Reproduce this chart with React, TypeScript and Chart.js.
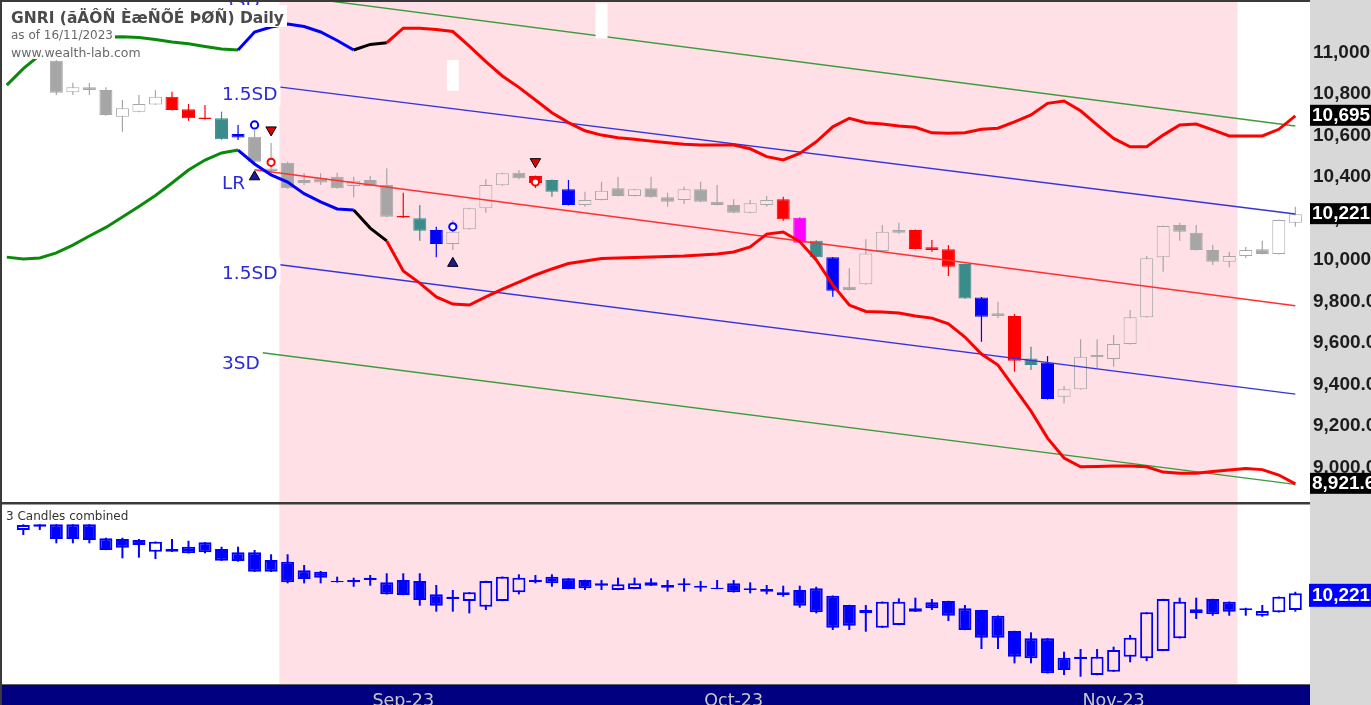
import React, { useEffect, useRef } from 'react';
import { Chart, registerables } from 'chart.js';

Chart.register(...registerables);

// ---------------- data ----------------
const monthTickIndex = [23, 43, 66];
const monthLabels = ['Sep-23', 'Oct-23', 'Nov-23'];
const yTickValues = [9000, 9200, 9400, 9600, 9800, 10000, 10200, 10400, 10600, 10800, 11000];

const opens = [10990, 11005, 10960, 10808, 10832, 10819, 10691, 10715, 10750, 10787, 10726, 10687, 10683, 10607, 10594, 10441, 10469, 10386, 10394, 10401, 10357, 10386, 10361, 10212, 10201, 10145, 10077, 10148, 10249, 10360, 10421, 10405, 10386, 10341, 10265, 10289, 10346, 10308, 10346, 10302, 10289, 10341, 10281, 10265, 10228, 10265, 10293, 10204, 10093, 10013, 9871, 9883, 10043, 10145, 10145, 10061, 10052, 9981, 9820, 9743, 9730, 9526, 9505, 9341, 9377, 9542, 9523, 9595, 9724, 10013, 10169, 10132, 10048, 9992, 10019, 10052, 10029, 10180];
const highs = [11010, 11020, 10964, 10854, 10853, 10832, 10771, 10795, 10819, 10811, 10752, 10747, 10715, 10651, 10627, 10564, 10474, 10419, 10418, 10421, 10401, 10405, 10442, 10324, 10265, 10160, 10193, 10252, 10389, 10420, 10434, 10407, 10388, 10386, 10329, 10377, 10401, 10343, 10401, 10324, 10353, 10377, 10361, 10293, 10289, 10308, 10305, 10206, 10095, 10015, 9960, 10100, 10169, 10180, 10147, 10096, 10072, 9983, 9822, 9799, 9740, 9582, 9537, 9393, 9618, 9618, 9639, 9759, 10019, 10166, 10180, 10169, 10072, 10040, 10063, 10093, 10195, 10257];
const lows = [10985, 10985, 10795, 10795, 10795, 10695, 10618, 10712, 10748, 10721, 10671, 10677, 10580, 10578, 10472, 10410, 10344, 10361, 10361, 10344, 10302, 10355, 10207, 10203, 10093, 10013, 10048, 10146, 10228, 10358, 10389, 10347, 10305, 10263, 10257, 10287, 10306, 10306, 10300, 10257, 10270, 10279, 10263, 10226, 10226, 10257, 10189, 10081, 10011, 9823, 9853, 9881, 10041, 10125, 10051, 10040, 9923, 9813, 9606, 9719, 9462, 9470, 9328, 9309, 9375, 9478, 9486, 9593, 9722, 9944, 10093, 10046, 9976, 9965, 10010, 10027, 10027, 10160];
const closes = [10995, 10990, 10806, 10832, 10819, 10699, 10731, 10752, 10787, 10723, 10683, 10680, 10582, 10591, 10474, 10429, 10346, 10371, 10373, 10346, 10382, 10357, 10209, 10205, 10141, 10077, 10136, 10249, 10361, 10418, 10394, 10371, 10329, 10265, 10289, 10334, 10308, 10341, 10302, 10281, 10341, 10281, 10265, 10228, 10273, 10289, 10196, 10083, 10013, 9852, 9855, 10032, 10136, 10132, 10053, 10048, 9968, 9815, 9727, 9730, 9515, 9494, 9330, 9377, 9534, 9531, 9595, 9724, 10008, 10164, 10136, 10048, 9992, 10019, 10048, 10029, 10193, 10221];
// g grey, h hollow, r red, t teal, b blue, m magenta
const candleTypes = 'hgghgghhhr' + 'rrtbgggggg' + 'hggrtbhhhh' + 'grtbhhghgg' + 'hggghhrmtb' + 'ghhgrrrtbg' + 'rtbhhghhhh' + 'ggghhghh';

// envelope bands, first value sits at bar index -1
const bandStartIndex = -1;
const bandUpper = [10843, 10922, 10988, 11026, 11051, 11067, 11075, 11076, 11072, 11063, 11051, 11042, 11029, 11017, 11012, 11099, 11123, 11137, 11125, 11099, 11058, 11012, 11039, 11047, 11117, 11117, 11111, 11101, 11031, 10956, 10887, 10832, 10771, 10710, 10662, 10623, 10602, 10589, 10582, 10573, 10565, 10558, 10554, 10554, 10554, 10536, 10498, 10482, 10514, 10570, 10642, 10683, 10662, 10655, 10646, 10640, 10613, 10611, 10613, 10630, 10635, 10666, 10699, 10755, 10766, 10719, 10651, 10586, 10546, 10546, 10602, 10651, 10655, 10627, 10598, 10598, 10598, 10630, 10695];
const bandLower = [10014, 10005, 10010, 10034, 10072, 10116, 10157, 10207, 10258, 10311, 10371, 10434, 10482, 10516, 10530, 10463, 10410, 10376, 10320, 10280, 10246, 10241, 10154, 10092, 9947, 9889, 9822, 9788, 9783, 9822, 9860, 9894, 9928, 9957, 9983, 9995, 10007, 10010, 10012, 10014, 10017, 10019, 10024, 10029, 10039, 10063, 10125, 10135, 10089, 10000, 9880, 9783, 9752, 9749, 9745, 9730, 9720, 9692, 9629, 9547, 9494, 9383, 9272, 9142, 9046, 9004, 9005, 9007, 9007, 9004, 8978, 8972, 8972, 8981, 8988, 8995, 8990, 8964, 8921.6];
const bandColors = 'GGGGGGGGGGGGGGG' + 'BBBBBBB' + 'KK' + 'RRRRRRRRRR' + 'RRRRRRRRRR' + 'RRRRRRRRRR' + 'RRRRRRRRRR' + 'RRRRRRRRRR' + 'RRRRR';

// regression channel (start / end values)
const channelFrom = 14;
const channelTo = 77;
const lrLine = [10435, 9780];
const upper15 = [10849, 10222];
const lower15 = [9993, 9354];
const upper3 = [11295, 10646];
const lower3 = [9558, 8919];

// signal markers
const blueCircleIdx = [14, 26];
const blueCircleVal = [10651, 10160];
const redCircleIdx = [15, 31];
const redCircleVal = [10471, 10376];
const sellIdx = [15, 31];
const sellVal = [10627, 10474];
const buyIdx = [14, 26];
const buyVal = [10401, 9984];
const whiteBarIdx = [26, 35];
const whiteBarLow = [10816, 11068];
const whiteBarHigh = [10964, 11237];

const shadeFrom = 15.5;
const shadeTo = 73.5;

// "3 Candles combined" pane
const combOpen = [10914, 10950, 10976, 10976, 10976, 10823, 10815, 10804, 10676, 10706, 10731, 10779, 10706, 10670, 10670, 10585, 10567, 10473, 10457, 10356, 10367, 10392, 10341, 10367, 10356, 10210, 10184, 10137, 10074, 10137, 10232, 10367, 10403, 10385, 10367, 10330, 10257, 10268, 10341, 10312, 10330, 10304, 10282, 10330, 10276, 10268, 10232, 10257, 10276, 10195, 10093, 10038, 9845, 9874, 10020, 10123, 10137, 10057, 10038, 9976, 9809, 9729, 9729, 9516, 9527, 9327, 9363, 9527, 9510, 9590, 9729, 10002, 10159, 10129, 10057, 9976, 10013, 10038];
const combHigh = [10976, 10976, 10976, 10976, 10976, 10829, 10829, 10815, 10788, 10815, 10796, 10781, 10731, 10731, 10695, 10648, 10648, 10531, 10465, 10403, 10392, 10421, 10440, 10440, 10440, 10312, 10257, 10234, 10358, 10405, 10429, 10421, 10429, 10387, 10369, 10367, 10392, 10392, 10385, 10367, 10385, 10356, 10367, 10367, 10341, 10312, 10304, 10304, 10293, 10197, 10095, 10093, 10131, 10166, 10173, 10159, 10139, 10093, 10040, 9978, 9811, 9794, 9731, 9582, 9612, 9612, 9637, 9765, 10015, 10161, 10173, 10173, 10161, 10131, 10063, 10093, 10186, 10238];
const combLow = [10859, 10914, 10768, 10768, 10768, 10693, 10604, 10611, 10596, 10674, 10657, 10659, 10576, 10567, 10455, 10455, 10330, 10330, 10330, 10339, 10293, 10304, 10208, 10200, 10085, 10020, 10020, 10002, 10038, 10135, 10210, 10330, 10293, 10266, 10257, 10257, 10255, 10266, 10302, 10239, 10239, 10239, 10266, 10230, 10221, 10210, 10184, 10063, 10002, 9820, 9820, 9801, 9843, 9872, 10018, 10038, 9918, 9818, 9612, 9612, 9455, 9455, 9344, 9327, 9309, 9325, 9361, 9466, 9480, 9588, 9727, 9940, 9976, 9976, 9976, 9965, 10011, 10020];
const combClose = [10968, 10976, 10815, 10815, 10804, 10695, 10720, 10749, 10786, 10676, 10659, 10670, 10578, 10574, 10457, 10457, 10341, 10377, 10392, 10341, 10341, 10367, 10210, 10202, 10148, 10085, 10159, 10232, 10356, 10403, 10392, 10341, 10330, 10268, 10276, 10304, 10320, 10330, 10304, 10282, 10312, 10282, 10268, 10232, 10257, 10239, 10202, 10085, 10013, 9845, 9867, 10002, 10129, 10129, 10057, 10057, 9976, 9820, 9735, 9735, 9527, 9510, 9346, 9382, 9502, 9527, 9601, 9735, 10013, 10159, 10129, 10046, 9991, 10020, 10038, 10027, 10184, 10221];

// ---------------- layout / style ----------------
const W = 1371;
const MAIN_H = 502;
const LOWER_H = 203;
const AXIS_W = 61;
const X_MIN = -1.289;
const X_MAX = 77.888;
const MAIN_MIN = 8834;
const MAIN_MAX = 11253;
const LOW_MIN = 9218;
const LOW_MAX = 11198;

const PINK = '#ffe0e6';
const AXIS_GREY = '#d8d8d8';
const NAVY = '#000080';
const BORDER = '#3a3a3a';
const candleColor: Record<string, string> = {
  g: '#a6a6a6', h: '#a6a6a6', r: '#ff0000', t: '#3b8b8b', b: '#0000ff', m: '#ff00ff',
};
const bandColor: Record<string, string> = { G: '#0a8a0a', B: '#0000ff', K: '#000000', R: '#ff0000' };
const SANS = '"DejaVu Sans", sans-serif';
const ARIAL = '"Liberation Sans", Arial, sans-serif';

const bgAt = (i: number) => (i > shadeFrom && i < shadeTo ? PINK : '#ffffff');
const fmtBox = (v: number) => v.toLocaleString('en-US', { maximumFractionDigits: 1 });
const zeroPad = (s: any) => {
  s.paddingTop = 0;
  s.paddingBottom = 0;
  s.paddingLeft = 0;
  s.paddingRight = 0;
};

Chart.defaults.font.family = SANS;

function channelDataset(vals: number[], color: string) {
  return {
    type: 'line' as const,
    data: [{ x: channelFrom, y: vals[0] }, { x: channelTo, y: vals[1] }],
    borderColor: color,
    borderWidth: 1.4,
    pointRadius: 0,
    tension: 0,
    order: 6,
  };
}

function bandDataset(vals: number[]) {
  return {
    type: 'line' as const,
    data: vals.map((v, j) => ({ x: bandStartIndex + j, y: v })),
    borderColor: bandColor.G,
    borderWidth: 3,
    pointRadius: 0,
    tension: 0,
    order: 3,
    segment: { borderColor: (ctx: any) => bandColor[bandColors[ctx.p1DataIndex]] },
  };
}

function markerDataset(idx: number[], vals: number[], style: any) {
  return {
    type: 'line' as const,
    data: idx.map((x, k) => ({ x, y: vals[k] })),
    showLine: false,
    order: 1,
    ...style,
  };
}

const mainPlugin = {
  id: 'mainDecor',
  beforeDraw(chart: any) {
    const { ctx, chartArea: a, scales } = chart;
    const x = scales.x;
    ctx.save();
    ctx.fillStyle = '#ffffff';
    ctx.fillRect(0, 0, chart.width, chart.height);
    ctx.fillStyle = AXIS_GREY;
    ctx.fillRect(a.right, 0, chart.width - a.right, chart.height);
    const x0 = x.getPixelForValue(shadeFrom);
    const x1 = x.getPixelForValue(shadeTo);
    ctx.fillStyle = PINK;
    ctx.fillRect(x0, a.top, x1 - x0, a.bottom - a.top);
    ctx.restore();
  },
  afterDraw(chart: any) {
    const { ctx, chartArea: a, scales } = chart;
    const y = scales.y;
    ctx.save();
    // channel labels
    const labels = [
      { t: '3SD', v: upper3[0], dy: 17 },
      { t: '1.5SD', v: upper15[0], dy: 16.5 },
      { t: 'LR', v: lrLine[0], dy: 19.5 },
      { t: '1.5SD', v: lower15[0], dy: 17.5 },
      { t: '3SD', v: lower3[0], dy: 17.5 },
    ];
    ctx.font = '18.5px ' + SANS;
    ctx.textBaseline = 'alphabetic';
    ctx.textAlign = 'left';
    labels.forEach((l) => {
      const py = y.getPixelForValue(l.v);
      const w = ctx.measureText(l.t).width;
      ctx.fillStyle = '#ffffff';
      ctx.fillRect(220, py - 3, w + 5, 25);
      ctx.fillStyle = '#2a2ad8';
      ctx.fillText(l.t, 222, py + l.dy);
    });
    // title block
    const title = 'GNRI (ãÄÔÑ ÈæÑÕÉ ÞØÑ) Daily';
    ctx.font = 'bold 15.5px ' + SANS;
    let w = ctx.measureText(title).width;
    ctx.fillStyle = '#ffffff';
    ctx.fillRect(8, 5, w + 6, 22);
    ctx.fillStyle = '#4a4a4a';
    ctx.fillText(title, 11, 23.3);
    ctx.font = '12px ' + SANS;
    w = ctx.measureText('as of 16/11/2023').width;
    ctx.fillStyle = '#ffffff';
    ctx.fillRect(8, 27, w + 5, 16);
    ctx.fillStyle = '#686868';
    ctx.fillText('as of 16/11/2023', 11, 39.3);
    ctx.font = '12.5px ' + SANS;
    w = ctx.measureText('www.wealth-lab.com').width;
    ctx.fillStyle = '#ffffff';
    ctx.fillRect(8, 43, w + 5, 16);
    ctx.fillStyle = '#686868';
    ctx.fillText('www.wealth-lab.com', 11, 56.5);
    // value boxes
    const boxes = [bandUpper[bandUpper.length - 1], closes[closes.length - 1], bandLower[bandLower.length - 1]];
    ctx.font = 'bold 19px ' + ARIAL;
    ctx.textBaseline = 'middle';
    boxes.forEach((v) => {
      const py = y.getPixelForValue(v);
      ctx.fillStyle = '#000000';
      ctx.fillRect(a.right, py - 11, chart.width - a.right, 21);
      ctx.fillStyle = '#ffffff';
      ctx.fillText(fmtBox(v), a.right + 2, py);
    });
    // frame
    ctx.fillStyle = BORDER;
    ctx.fillRect(0, 0, a.right, 2);
    ctx.fillRect(0, 0, 2, chart.height);
    ctx.restore();
  },
};

const lowerPlugin = {
  id: 'lowerDecor',
  beforeDraw(chart: any) {
    const { ctx, chartArea: a, scales } = chart;
    const x = scales.x;
    ctx.save();
    ctx.fillStyle = '#ffffff';
    ctx.fillRect(0, 0, chart.width, chart.height);
    ctx.fillStyle = AXIS_GREY;
    ctx.fillRect(a.right, 0, chart.width - a.right, chart.height);
    const x0 = x.getPixelForValue(shadeFrom);
    const x1 = x.getPixelForValue(shadeTo);
    ctx.fillStyle = PINK;
    ctx.fillRect(x0, a.top, x1 - x0, a.bottom - a.top);
    ctx.fillStyle = NAVY;
    ctx.fillRect(0, x.top, a.right, chart.height - x.top);
    ctx.fillStyle = '#606060';
    ctx.fillRect(0, x.top - 1, a.right, 1);
    ctx.restore();
  },
  afterDraw(chart: any) {
    const { ctx, chartArea: a, scales } = chart;
    const y = scales.y;
    ctx.save();
    ctx.font = '12px ' + SANS;
    ctx.fillStyle = '#333333';
    ctx.textBaseline = 'alphabetic';
    ctx.fillText('3 Candles combined', 6, 18);
    const v = combClose[combClose.length - 1];
    const py = y.getPixelForValue(v);
    ctx.fillStyle = '#0000ff';
    ctx.fillRect(a.right - 1, py - 9.5, chart.width - a.right + 1, 23);
    ctx.fillStyle = '#ffffff';
    ctx.font = 'bold 19px ' + ARIAL;
    ctx.textBaseline = 'middle';
    ctx.fillText(fmtBox(v), a.right + 2, py + 2);
    ctx.fillStyle = BORDER;
    ctx.fillRect(0, 0, a.right, 2.5);
    ctx.fillRect(0, 0, 2, chart.height);
    ctx.restore();
  },
};

function mainConfig(): any {
  const datasets: any[] = [
    {
      type: 'bar',
      data: lows.map((l, i) => ({ x: i, y: [l, highs[i]] })),
      backgroundColor: lows.map((_, i) => candleColor[candleTypes[i]]),
      borderWidth: 0,
      barThickness: 1.2,
      inflateAmount: 0,
      grouped: false,
      order: 10,
    },
    {
      type: 'bar',
      data: opens.map((o, i) => ({ x: i, y: [o, closes[i]] })),
      backgroundColor: opens.map((_, i) => (candleTypes[i] === 'h' ? bgAt(i) : candleColor[candleTypes[i]])),
      borderColor: opens.map((_, i) => candleColor[candleTypes[i]]),
      borderWidth: 1,
      borderSkipped: false,
      barThickness: 13,
      inflateAmount: 0,
      grouped: false,
      order: 9,
    },
    channelDataset(upper3, '#3c9c3c'),
    channelDataset(upper15, '#3434dc'),
    channelDataset(lrLine, '#ff3030'),
    channelDataset(lower15, '#3434dc'),
    channelDataset(lower3, '#3c9c3c'),
    {
      type: 'bar',
      data: whiteBarIdx.map((x, k) => ({ x, y: [whiteBarLow[k], whiteBarHigh[k]] })),
      backgroundColor: '#ffffff',
      borderWidth: 0,
      barThickness: 12,
      inflateAmount: 0,
      grouped: false,
      order: 4,
    },
    bandDataset(bandUpper),
    bandDataset(bandLower),
    markerDataset(blueCircleIdx, blueCircleVal, {
      pointStyle: 'circle', pointRadius: 3.6, pointBorderWidth: 2, pointBorderColor: '#0000ff', pointBackgroundColor: '#ffffff',
    }),
    markerDataset(redCircleIdx, redCircleVal, {
      pointStyle: 'circle', pointRadius: 3.6, pointBorderWidth: 2, pointBorderColor: '#ff0000', pointBackgroundColor: '#ffffff',
    }),
    markerDataset(sellIdx, sellVal, {
      pointStyle: 'triangle', pointRotation: 180, pointRadius: 6, pointBorderWidth: 1, pointBorderColor: '#000000', pointBackgroundColor: '#e00000',
    }),
    markerDataset(buyIdx, buyVal, {
      pointStyle: 'triangle', pointRotation: 0, pointRadius: 6, pointBorderWidth: 1, pointBorderColor: '#000000', pointBackgroundColor: '#1a1a9a',
    }),
  ];
  return {
    type: 'bar',
    data: { datasets },
    options: {
      responsive: false,
      maintainAspectRatio: false,
      animation: false,
      devicePixelRatio: 1,
      events: [],
      layout: { autoPadding: false, padding: { left: 2, top: 0, right: 0, bottom: 0 } },
      plugins: { legend: { display: false }, tooltip: { enabled: false } },
      scales: {
        x: {
          type: 'linear', min: X_MIN, max: X_MAX, display: false, offset: false, bounds: 'data',
          afterFit: (s: any) => { zeroPad(s); },
        },
        y: {
          position: 'right',
          min: MAIN_MIN,
          max: MAIN_MAX,
          bounds: 'data',
          grid: { display: false, drawTicks: false },
          border: { display: false },
          afterFit: (s: any) => { s.width = AXIS_W; zeroPad(s); },
          afterBuildTicks: (s: any) => { s.ticks = yTickValues.map((v) => ({ value: v })); },
          ticks: {
            autoSkip: false,
            padding: 3,
            color: '#1c1c1c',
            font: { family: ARIAL, size: 19, weight: 'bold' },
            callback: (v: any) => Number(v).toLocaleString('en-US', { minimumFractionDigits: 1, maximumFractionDigits: 1 }),
          },
        },
      },
    },
    plugins: [mainPlugin],
  };
}

function lowerConfig(): any {
  const blue = '#0000ff';
  const datasets: any[] = [
    {
      type: 'bar',
      data: combLow.map((l, i) => ({ x: i, y: [l, combHigh[i]] })),
      backgroundColor: blue,
      borderWidth: 0,
      barThickness: 2,
      inflateAmount: 0,
      grouped: false,
      order: 10,
    },
    {
      type: 'bar',
      data: combOpen.map((o, i) => ({ x: i, y: [o, combClose[i]] })),
      backgroundColor: combOpen.map((o, i) => (combClose[i] > o ? bgAt(i) : blue)),
      borderColor: blue,
      borderWidth: 2,
      borderSkipped: false,
      barThickness: 13,
      inflateAmount: 0,
      grouped: false,
      order: 9,
    },
  ];
  return {
    type: 'bar',
    data: { datasets },
    options: {
      responsive: false,
      maintainAspectRatio: false,
      animation: false,
      devicePixelRatio: 1,
      events: [],
      layout: { autoPadding: false, padding: { left: 2, top: 2, right: 0, bottom: 0 } },
      plugins: { legend: { display: false }, tooltip: { enabled: false } },
      scales: {
        x: {
          type: 'linear',
          min: X_MIN,
          max: X_MAX,
          offset: false,
          bounds: 'data',
          position: 'bottom',
          grid: { display: false, drawTicks: false },
          border: { display: false },
          afterFit: (s: any) => { s.height = 20; zeroPad(s); },
          afterBuildTicks: (s: any) => { s.ticks = monthTickIndex.map((v) => ({ value: v })); },
          ticks: {
            autoSkip: false,
            maxRotation: 0,
            minRotation: 0,
            padding: 6,
            color: '#c8c8c8',
            font: { family: SANS, size: 17.5 },
            callback: (v: any) => monthLabels[monthTickIndex.indexOf(Number(v))] ?? '',
          },
        },
        y: {
          position: 'right',
          min: LOW_MIN,
          max: LOW_MAX,
          bounds: 'data',
          grid: { display: false, drawTicks: false },
          border: { display: false },
          ticks: { display: false },
          afterFit: (s: any) => { s.width = AXIS_W; zeroPad(s); },
        },
      },
    },
    plugins: [lowerPlugin],
  };
}

export default function App() {
  const mainRef = useRef<HTMLCanvasElement>(null);
  const lowerRef = useRef<HTMLCanvasElement>(null);

  useEffect(() => {
    document.body.style.margin = '0';
    const c1 = new Chart(mainRef.current as HTMLCanvasElement, mainConfig());
    const c2 = new Chart(lowerRef.current as HTMLCanvasElement, lowerConfig());
    return () => {
      c1.destroy();
      c2.destroy();
    };
  }, []);

  return (
    <div style={{ position: 'absolute', left: 0, top: 0, width: W, height: MAIN_H + LOWER_H, overflow: 'hidden', background: '#ffffff' }}>
      <canvas ref={mainRef} width={W} height={MAIN_H} style={{ display: 'block', width: W, height: MAIN_H }} />
      <canvas ref={lowerRef} width={W} height={LOWER_H} style={{ display: 'block', width: W, height: LOWER_H }} />
    </div>
  );
}
